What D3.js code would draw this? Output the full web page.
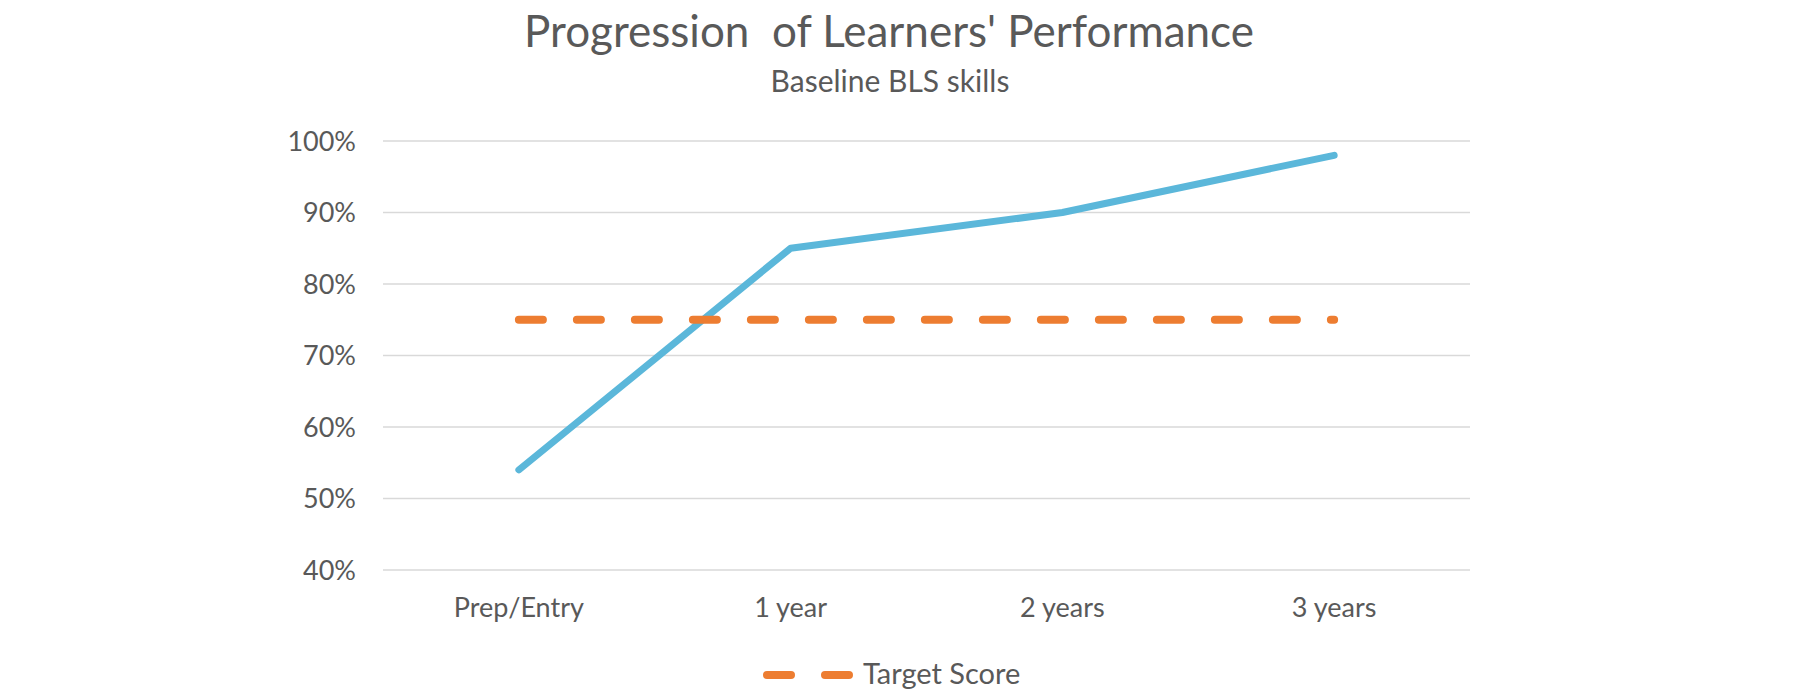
<!DOCTYPE html>
<head>
  <meta charset="utf-8">
  <script src="https://d3js.org/d3.v7.min.js"></script>
  <style>
    body { margin: 0; background: #fff; }
    text { font-family: Lato, "Open Sans", sans-serif; fill: #595959; }
    .grid line { stroke: #d9d9d9; stroke-width: 1.5; }
  </style>
</head>
<body>
  <script>

  // chart data
  var categories = ["Prep/Entry", "1 year", "2 years", "3 years"];
  var performance = [0.54, 0.85, 0.90, 0.98];
  var target = [0.75, 0.75, 0.75, 0.75];
  var yTicks = [0.4, 0.5, 0.6, 0.7, 0.8, 0.9, 1.0];

  var width = 1800,
      height = 700;

  var svg = d3.select("body").append("svg")
      .attr("width", width)
      .attr("height", height);

  var x = d3.scaleBand()
      .domain(categories)
      .range([383, 1470]);

  var y = d3.scaleLinear()
      .domain([0.4, 1.0])
      .range([570, 141]);

  var cx = function(c) { return x(c) + x.bandwidth() / 2; };

  // gridlines
  svg.append("g")
      .attr("class", "grid")
      .selectAll("line")
      .data(yTicks)
      .enter().append("line")
      .attr("x1", 383)
      .attr("x2", 1470)
      .attr("y1", function(d) { return y(d); })
      .attr("y2", function(d) { return y(d); });

  // y labels
  svg.append("g")
      .selectAll("text")
      .data(yTicks)
      .enter().append("text")
      .attr("x", 356)
      .attr("y", function(d) { return y(d); })
      .attr("dy", "0.36em")
      .attr("text-anchor", "end")
      .style("font-size", "27px")
      .text(d3.format(".0%"));

  // x labels
  svg.append("g")
      .selectAll("text")
      .data(categories)
      .enter().append("text")
      .attr("x", cx)
      .attr("y", 617)
      .attr("text-anchor", "middle")
      .style("font-size", "27px")
      .text(function(d) { return d; });

  var line = d3.line()
      .x(function(d, i) { return cx(categories[i]); })
      .y(function(d) { return y(d); });

  svg.append("path")
      .datum(performance)
      .attr("d", line)
      .attr("fill", "none")
      .attr("stroke", "#5bb7da")
      .attr("stroke-width", 7)
      .attr("stroke-linecap", "round")
      .attr("stroke-linejoin", "round");

  svg.append("path")
      .datum(target)
      .attr("d", line)
      .attr("fill", "none")
      .attr("stroke", "#ed7d31")
      .attr("stroke-width", 8)
      .attr("stroke-linecap", "round")
      .attr("stroke-dasharray", "24,34");

  // titles
  svg.append("text")
      .attr("x", 889)
      .attr("y", 47)
      .attr("text-anchor", "middle")
      .style("font-size", "44px")
      .style("white-space", "pre")
      .text("Progression  of Learners' Performance");

  svg.append("text")
      .attr("x", 890)
      .attr("y", 92)
      .attr("text-anchor", "middle")
      .style("font-size", "30px")
      .text("Baseline BLS skills");

  // legend
  var legend = svg.append("g");
  legend.append("line")
      .attr("x1", 767)
      .attr("x2", 850)
      .attr("y1", 675)
      .attr("y2", 675)
      .attr("stroke", "#ed7d31")
      .attr("stroke-width", 8)
      .attr("stroke-linecap", "round")
      .attr("stroke-dasharray", "24,34");
  legend.append("text")
      .attr("x", 863)
      .attr("y", 684)
      .style("font-size", "29px")
      .text("Target Score");

  </script>
</body>
